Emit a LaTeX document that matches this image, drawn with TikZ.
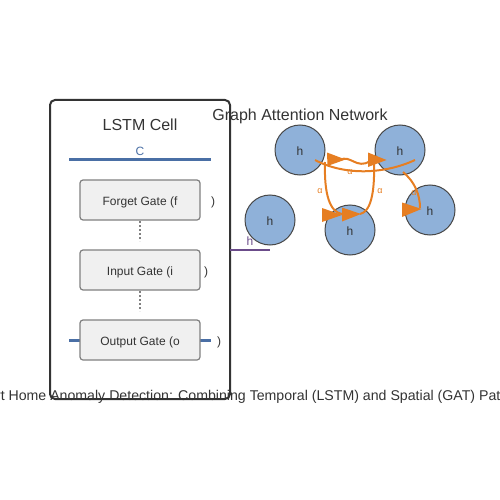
\documentclass[tikz,border=0pt]{standalone}
\usepackage{fontspec}
\setmainfont{Liberation Sans}
\usetikzlibrary{calc}
\definecolor{dark}{HTML}{333333}
\definecolor{gatefill}{HTML}{F0F0F0}
\definecolor{gatedraw}{HTML}{808080}
\definecolor{cellblue}{HTML}{4A6FA5}
\definecolor{hpurple}{HTML}{6B4C8A}
\definecolor{attorange}{HTML}{E67E22}
\definecolor{nodeblue}{HTML}{8FB1D9}
\tikzset{
  txt/.style={inner sep=0pt, text=dark, anchor=base},
  gatebox/.style={draw=gatedraw, fill=gatefill, line width=1.2pt, rounded corners=3pt,
    minimum width=120pt, minimum height=40pt, inner sep=0pt},
  gnode/.style={circle, draw=dark!90, line width=1pt, fill=nodeblue, minimum size=50pt,
    inner sep=0pt},
  bluel/.style={draw=cellblue, line width=3pt},
  dotl/.style={draw=gatedraw, line width=1.5pt, dash pattern=on 2pt off 2pt},
  att/.style={draw=attorange, line width=2pt},
  atthead/.style={fill=attorange, draw=none},
  alab/.style={inner sep=0pt, anchor=base, text=attorange, font=\fontsize{9}{10}\selectfont},
  f12/.style={font=\fontsize{12}{14}\selectfont},
  f16/.style={font=\fontsize{16}{19}\selectfont},
}
\begin{document}
\begin{tikzpicture}[x=1pt,y=-1pt]
\useasboundingbox (0,0) rectangle (500,500);
\clip (0,0) rectangle (500,500);

% LSTM cell frame
\node[draw=dark, line width=2pt, rounded corners=5pt, minimum width=180pt, minimum height=299pt, inner sep=0pt] (cell) at (140,249.5) {};
\node[txt, f16] (celltitle) at (140,130) {LSTM Cell};

% cell state line
\node[txt, f12, text=cellblue] (clab) at (140,155.5) {C};
\coordinate (cL) at (69,159.5);
\coordinate (cR) at (211,159.5);
\draw[bluel] (cL) -- (cR);

% output blue line (behind box)
\coordinate (oL) at (69,340);
\coordinate (oR) at (211,340);
\draw[bluel] (oL) -- (oR);

% gates
\node[gatebox] (fg) at (140,200) {};
\node[txt, f12] (fgt) at (140,205) {Forget Gate (f};
\node[txt, f12] (fgp) at (213,205.5) {)};
\node[gatebox] (ig) at (140,270) {};
\node[txt, f12] (igt) at (140,275) {Input Gate (i};
\node[txt, f12] (igp) at (206,275.5) {)};
\node[gatebox] (og) at (140,340) {};
\node[txt, f12] (ogt) at (140,345) {Output Gate (o};
\node[txt, f12] (ogp) at (219,345.5) {)};

\coordinate (d1a) at (140,221);
\coordinate (d1b) at (140,241);
\coordinate (d2a) at (140,291);
\coordinate (d2b) at (140,311);
\draw[dotl] (d1a) -- (d1b);
\draw[dotl] (d2a) -- (d2b);

% hidden state output
\coordinate (hL) at (230,250);
\coordinate (hR) at (270,250);
\draw[draw=hpurple, line width=2pt] (hL) -- (hR);
\node[txt, f12, text=hpurple] (hlab) at (250,245) {h};

% GAT
\node[txt, f16] (gattitle) at (300,120.5) {Graph Attention Network};
\node[gnode] (n1) at (300,150) {};
\node[gnode] (n2) at (400,150) {};
\node[gnode] (n3) at (270,220) {};
\node[gnode] (n4) at (350,230) {};
\node[gnode] (n5) at (430,210) {};
\node[txt, f12] (h1) at (300,155) {h};
\node[txt, f12] (h2) at (400,155) {h};
\node[txt, f12] (h3) at (270,225) {h};
\node[txt, f12] (h4) at (350,235) {h};
\node[txt, f12] (h5) at (430,215) {h};

% attention edges
\draw[att] ($(n1.center)+(15,10)$) .. controls ($(n1.center)+(45,26)$) and ($(n2.center)+(-15,24)$) .. ($(n2.center)+(15,10)$);
\draw[att] ($(n1.center)+(40,10)$) .. controls ($(n1.center)+(50,4)$) and ($(n1.center)+(57,20)$) .. ($(n1.center)+(70,11)$);
\draw[att] ($(n1.center)+(25,12)$) .. controls ($(n1.center)+(24,45)$) and ($(n4.center)+(-20,-18)$) .. ($(n4.center)+(-8,-16)$);
\draw[att] ($(n2.center)+(-26,12)$) .. controls ($(n2.center)+(-25,45)$) and ($(n4.center)+(20,-18)$) .. ($(n4.center)+(10,-16)$);
\draw[att] ($(n2.center)+(3,22)$) .. controls ($(n2.center)+(15,32)$) and ($(n5.center)+(-10,-15)$) .. ($(n5.center)+(-10,-2)$);

\fill[atthead] (327,152.5) -- (345.5,159.5) -- (327.5,166) -- cycle;
\fill[atthead] (368,152.5) -- (386.5,160) -- (368,167) -- cycle;
\fill[atthead] (322,208) -- (342,215) -- (322,222) -- cycle;
\fill[atthead] (342,207.5) -- (361,214) -- (342,221.5) -- cycle;
\fill[atthead] (402,202.5) -- (421.5,209) -- (402,217) -- cycle;

\node[alab] (a1) at (350,174.5) {α};
\node[alab] (a2) at (320,193.5) {α};
\node[alab] (a3) at (380,193.5) {α};
\node[alab] (a4) at (414,195.5) {α};

% caption
\node[txt, font=\fontsize{14.15}{17}\selectfont] (caption) at (249.4,400) {Smart Home Anomaly Detection: Combining Temporal (LSTM) and Spatial (GAT) Patterns};
\end{tikzpicture}
\end{document}
